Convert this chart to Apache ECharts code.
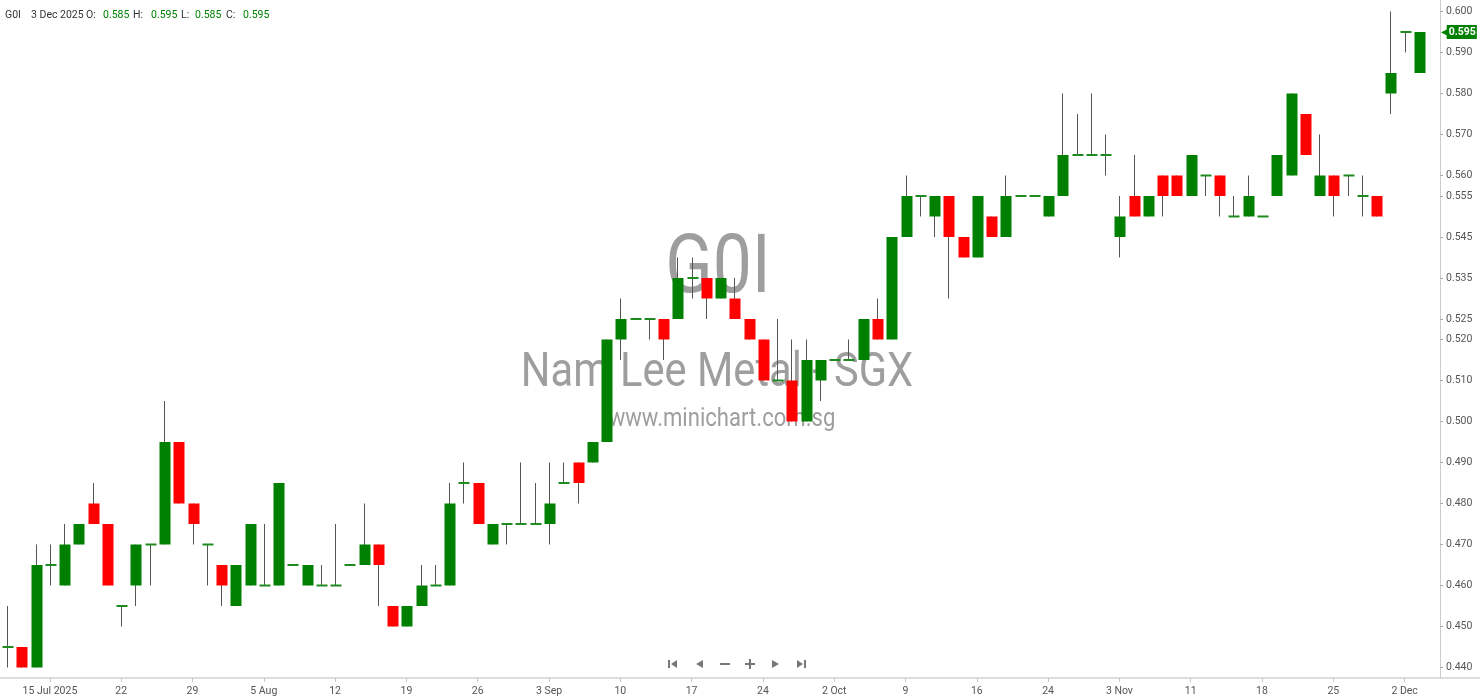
<!DOCTYPE html>
<html>
<head>
<meta charset="utf-8">
<script src="https://cdn.jsdelivr.net/npm/echarts@6/dist/echarts.min.js"></script>
<style>
html,body{margin:0;padding:0;background:#ffffff;}
#chart{width:1480px;height:699px;}
</style>
</head>
<body>
<div id="chart"></div>
<script>
// ---------------- data ----------------
const symbol = 'G0I';
const companyName = 'Nam Lee Metal - SGX';
const siteName = 'www.minichart.com.sg';

const dates = [
  '2025-07-10','2025-07-11','2025-07-14','2025-07-15','2025-07-16','2025-07-17','2025-07-18','2025-07-21','2025-07-22','2025-07-23',
  '2025-07-24','2025-07-25','2025-07-28','2025-07-29','2025-07-30','2025-07-31','2025-08-01','2025-08-04','2025-08-05','2025-08-06',
  '2025-08-07','2025-08-08','2025-08-11','2025-08-12','2025-08-13','2025-08-14','2025-08-15','2025-08-18','2025-08-19','2025-08-20',
  '2025-08-21','2025-08-22','2025-08-25','2025-08-26','2025-08-27','2025-08-28','2025-08-29','2025-09-02','2025-09-03','2025-09-04',
  '2025-09-05','2025-09-08','2025-09-09','2025-09-10','2025-09-11','2025-09-12','2025-09-15','2025-09-16','2025-09-17','2025-09-18',
  '2025-09-19','2025-09-22','2025-09-23','2025-09-24','2025-09-25','2025-09-26','2025-09-29','2025-09-30','2025-10-02','2025-10-03',
  '2025-10-06','2025-10-07','2025-10-08','2025-10-09','2025-10-10','2025-10-13','2025-10-14','2025-10-15','2025-10-16','2025-10-17',
  '2025-10-21','2025-10-22','2025-10-23','2025-10-24','2025-10-27','2025-10-28','2025-10-29','2025-10-30','2025-11-03','2025-11-04',
  '2025-11-05','2025-11-06','2025-11-07','2025-11-11','2025-11-12','2025-11-13','2025-11-14','2025-11-17','2025-11-18','2025-11-19',
  '2025-11-20','2025-11-21','2025-11-24','2025-11-25','2025-11-26','2025-11-27','2025-11-28','2025-12-01','2025-12-02','2025-12-03'
];

const opens = [
  0.445,0.445,0.440,0.465,0.460,0.470,0.480,0.475,0.455,0.460,
  0.470,0.470,0.495,0.480,0.470,0.465,0.455,0.460,0.460,0.460,
  0.465,0.460,0.460,0.460,0.465,0.465,0.470,0.455,0.450,0.455,
  0.460,0.460,0.485,0.485,0.470,0.475,0.475,0.475,0.475,0.485,
  0.490,0.490,0.495,0.520,0.525,0.525,0.525,0.525,0.535,0.535,
  0.530,0.530,0.525,0.520,0.510,0.510,0.500,0.510,0.515,0.515,
  0.515,0.525,0.520,0.545,0.555,0.550,0.555,0.545,0.540,0.550,
  0.545,0.555,0.555,0.550,0.555,0.565,0.565,0.565,0.545,0.555,
  0.550,0.560,0.560,0.555,0.560,0.560,0.550,0.550,0.550,0.555,
  0.560,0.575,0.555,0.560,0.560,0.555,0.555,0.580,0.595,0.585
];
const highs = [
  0.455,0.445,0.470,0.470,0.475,0.475,0.485,0.475,0.455,0.470,
  0.470,0.505,0.495,0.480,0.470,0.465,0.465,0.475,0.475,0.485,
  0.465,0.465,0.465,0.475,0.465,0.480,0.470,0.455,0.455,0.465,
  0.465,0.485,0.490,0.485,0.475,0.475,0.490,0.485,0.490,0.490,
  0.490,0.495,0.520,0.530,0.525,0.525,0.525,0.540,0.540,0.535,
  0.535,0.535,0.525,0.520,0.525,0.520,0.520,0.515,0.515,0.520,
  0.525,0.530,0.545,0.560,0.555,0.555,0.555,0.545,0.555,0.550,
  0.560,0.555,0.555,0.555,0.580,0.575,0.580,0.570,0.555,0.565,
  0.555,0.560,0.560,0.565,0.560,0.560,0.555,0.560,0.550,0.565,
  0.580,0.575,0.570,0.560,0.560,0.560,0.555,0.600,0.595,0.595
];
const lows = [
  0.440,0.440,0.440,0.460,0.460,0.470,0.475,0.460,0.450,0.455,
  0.460,0.470,0.480,0.470,0.460,0.455,0.455,0.460,0.460,0.460,
  0.465,0.460,0.460,0.460,0.465,0.465,0.455,0.450,0.450,0.455,
  0.460,0.460,0.480,0.475,0.470,0.470,0.475,0.475,0.470,0.485,
  0.480,0.490,0.495,0.515,0.525,0.520,0.515,0.525,0.530,0.525,
  0.530,0.525,0.520,0.510,0.510,0.500,0.500,0.505,0.515,0.515,
  0.515,0.520,0.520,0.545,0.550,0.545,0.530,0.540,0.540,0.545,
  0.545,0.555,0.555,0.550,0.555,0.565,0.565,0.560,0.540,0.550,
  0.550,0.550,0.555,0.555,0.555,0.550,0.550,0.550,0.550,0.555,
  0.560,0.565,0.555,0.550,0.555,0.550,0.550,0.575,0.590,0.585
];
const closes = [
  0.445,0.440,0.465,0.465,0.470,0.475,0.475,0.460,0.455,0.470,
  0.470,0.495,0.480,0.475,0.470,0.460,0.465,0.475,0.460,0.485,
  0.465,0.465,0.460,0.460,0.465,0.470,0.465,0.450,0.455,0.460,
  0.460,0.480,0.485,0.475,0.475,0.475,0.475,0.475,0.480,0.485,
  0.485,0.495,0.520,0.525,0.525,0.525,0.520,0.535,0.535,0.530,
  0.535,0.525,0.520,0.510,0.510,0.500,0.515,0.515,0.515,0.515,
  0.525,0.520,0.545,0.555,0.555,0.555,0.545,0.540,0.555,0.545,
  0.555,0.555,0.555,0.555,0.565,0.565,0.565,0.565,0.550,0.550,
  0.555,0.555,0.555,0.565,0.560,0.555,0.550,0.555,0.550,0.565,
  0.580,0.565,0.560,0.555,0.560,0.555,0.550,0.585,0.595,0.595
];

const yTickValues = [0.440,0.450,0.460,0.470,0.480,0.490,0.500,0.510,0.520,0.525,0.535,0.545,0.555,0.560,0.570,0.580,0.590,0.600];
const xLabelStart = 3;
const xLabelStep = 5;

// ---------------- helpers ----------------
const MONTHS = ['Jan','Feb','Mar','Apr','May','Jun','Jul','Aug','Sep','Oct','Nov','Dec'];
function parseDate(s){ const p = s.split('-').map(Number); return {y:p[0], m:p[1], d:p[2]}; }
function fmtFull(s){ const t = parseDate(s); return t.d + ' ' + MONTHS[t.m-1] + ' ' + t.y; }
function isLabelIdx(i){ return i >= xLabelStart && (i - xLabelStart) % xLabelStep === 0; }
function xLabelFormatter(val, idx){
  const t = parseDate(val);
  if (idx === xLabelStart) return fmtFull(val);
  const prev = parseDate(dates[idx - xLabelStep]);
  if (prev.m !== t.m) return t.d + ' ' + MONTHS[t.m-1];
  return String(t.d);
}

const last = dates.length - 1;
const seriesData = dates.map((d, i) => [i, opens[i], closes[i], lows[i], highs[i]]);

const UP = '#008000', DOWN = '#ff0000', DOJI = '#1f8a1f', WICK = '#555555';
const FONT = 'Roboto';

function renderItem(params, api){
  const i = api.value(0), o = api.value(1), c = api.value(2), l = api.value(3), h = api.value(4);
  const pH = api.coord([i, h]), pL = api.coord([i, l]), pO = api.coord([i, o]), pC = api.coord([i, c]);
  const bw = Math.round(api.size([1, 0])[0] * 0.77);
  const cx = Math.round(pH[0]);
  const children = [];
  if (h > l) {
    children.push({type:'line', shape:{x1:cx+0.5, y1:pH[1], x2:cx+0.5, y2:pL[1]}, style:{stroke:WICK, lineWidth:1}});
  }
  if (o === c) {
    children.push({type:'rect', shape:{x:cx - Math.floor(bw/2) + 0.5, y:pO[1]-1, width:bw, height:2}, style:{fill:DOJI}});
  } else {
    const top = Math.min(pO[1], pC[1]), bot = Math.max(pO[1], pC[1]);
    children.push({type:'rect', shape:{x:cx - Math.floor(bw/2) + 0.5, y:top, width:bw, height:bot-top}, style:{fill: c > o ? UP : DOWN}});
  }
  return {type:'group', children};
}

// header pieces
const hdrColor = '#333';
const valColor = closes[last] >= opens[last] ? UP : DOWN;
const header = [
  {t:symbol, x:5, c:hdrColor},
  {t:fmtFull(dates[last]), x:31, c:hdrColor},
  {t:'O:', x:86, c:hdrColor}, {t:opens[last].toFixed(3), x:103, c:valColor},
  {t:'H:', x:133, c:hdrColor}, {t:highs[last].toFixed(3), x:151, c:valColor},
  {t:'L:', x:181, c:hdrColor}, {t:lows[last].toFixed(3), x:195, c:valColor},
  {t:'C:', x:226, c:hdrColor}, {t:closes[last].toFixed(3), x:243, c:valColor}
];

const NAV = '#777';
const WM = 'rgba(120,120,120,0.72)';
const graphics = [
  // watermark
  {type:'text', x:718, y:271, z:-1, scaleX:0.85, originX:0, originY:0,
   style:{text:symbol, fontSize:82, fontFamily:FONT, fill:WM, align:'center', verticalAlign:'middle'}},
  {type:'text', x:717, y:374, z:-1, scaleX:0.85, originX:0, originY:0,
   style:{text:companyName, fontSize:49, fontFamily:FONT, fill:WM, align:'center', verticalAlign:'middle'}},
  {type:'text', x:722, y:419, z:-1, scaleX:0.85, originX:0, originY:0,
   style:{text:siteName, fontSize:26, fontFamily:FONT, fill:WM, align:'center', verticalAlign:'middle'}},
  // x-axis line extension across the right margin
  {type:'line', shape:{x1:1426, y1:678, x2:1480, y2:678}, style:{stroke:'#dddddd', lineWidth:2}},
  // navigation controls
  {type:'rect', shape:{x:668, y:660, width:2, height:8}, style:{fill:NAV}},
  {type:'polygon', shape:{points:[[677,660],[677,668],[671,664]]}, style:{fill:NAV}},
  {type:'polygon', shape:{points:[[703,660],[703,668],[696,664]]}, style:{fill:NAV}},
  {type:'rect', shape:{x:720, y:663, width:10, height:2}, style:{fill:NAV}},
  {type:'rect', shape:{x:745, y:663, width:10, height:2}, style:{fill:NAV}},
  {type:'rect', shape:{x:749, y:659, width:2, height:10}, style:{fill:NAV}},
  {type:'polygon', shape:{points:[[772,660],[772,668],[779,664]]}, style:{fill:NAV}},
  {type:'polygon', shape:{points:[[797,660],[797,668],[803,664]]}, style:{fill:NAV}},
  {type:'rect', shape:{x:804, y:660, width:2, height:8}, style:{fill:NAV}}
].concat(header.map(h => ({type:'text', x:h.x, y:15,
   style:{text:h.t, fontSize:10.5, fontFamily:FONT, fill:h.c, align:'left', verticalAlign:'middle'}})));

const Y_MIN = 0.43744, Y_MAX = 0.60280;

const chart = echarts.init(document.getElementById('chart'), null, {renderer:'canvas', width:1480, height:699});
chart.setOption({
  animation:false,
  backgroundColor:'#ffffff',
  grid:{left:0, right:54, top:0, bottom:21, containLabel:false},
  xAxis:{
    type:'category', data:dates, boundaryGap:true,
    axisLine:{show:true, lineStyle:{color:'#dddddd', width:2}},
    axisTick:{show:true, alignWithLabel:true, interval:isLabelIdx, length:4, lineStyle:{color:'#c8c8c8'}},
    axisLabel:{interval:isLabelIdx, formatter:xLabelFormatter, color:'#555', fontSize:10.5, fontFamily:FONT, margin:8},
    splitLine:{show:false}
  },
  yAxis:[
    {
      type:'value', position:'right', offset:14, min:Y_MIN, max:Y_MAX,
      axisLine:{show:true, lineStyle:{color:'#cccccc'}},
      splitLine:{show:false},
      axisTick:{show:true, length:3, lineStyle:{color:'#aaaaaa'}, customValues:yTickValues},
      axisLabel:{customValues:yTickValues, formatter:v => v.toFixed(3), color:'#555', fontSize:10.5, fontFamily:FONT, margin:6}
    },
    {
      type:'value', position:'right', offset:14, min:Y_MIN, max:Y_MAX,
      axisLine:{show:false}, splitLine:{show:false}, axisTick:{show:false},
      axisLabel:{customValues:[closes[last]], margin:1,
        formatter:v => '{a|◀}{b|' + v.toFixed(3) + '}',
        rich:{
          a:{color:UP, fontSize:10, fontFamily:'DejaVu Sans', padding:[0,-2,0,0]},
          b:{color:'#ffffff', backgroundColor:UP, fontSize:10.5, fontFamily:FONT, fontWeight:'bold', padding:[2,1,1,2]}
        }}
    }
  ],
  graphic:graphics,
  series:[{
    type:'custom', renderItem:renderItem, data:seriesData,
    encode:{x:0, y:[1,2,3,4]}, xAxisIndex:0, yAxisIndex:0, z:2, clip:false
  }]
});
</script>
</body>
</html>
